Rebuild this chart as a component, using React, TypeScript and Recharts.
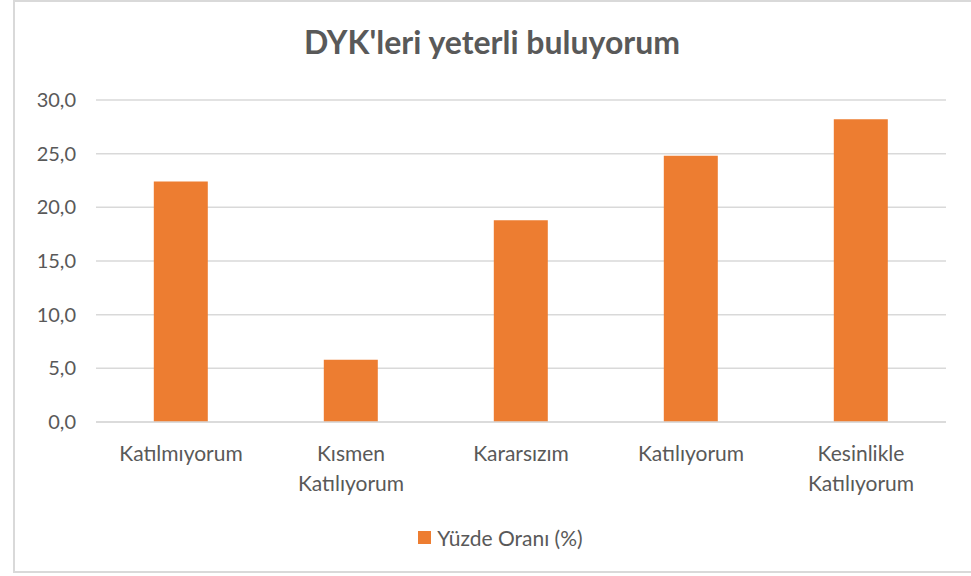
import React from 'react';
import { BarChart, Bar, XAxis, YAxis, CartesianGrid, Legend } from 'recharts';

const categories = ['Katılmıyorum', 'Kısmen Katılıyorum', 'Kararsızım', 'Katılıyorum', 'Kesinlikle Katılıyorum'];
const percentages = [22.4, 5.8, 18.8, 24.8, 28.2];
const yTicks = [0, 5, 10, 15, 20, 25, 30];

const seriesName = 'Yüzde Oranı (%)';
const title = "DYK'leri yeterli buluyorum";

const data = categories.map((name, i) => ({ name, value: percentages[i] }));

const FONT = 'Lato, "Open Sans", sans-serif';
const TEXT = '#595959';
const ORANGE = '#ED7D31';

const CategoryTick = (props: any) => {
  const { x, y, payload } = props;
  const lines = String(payload.value).split(' ');
  return (
    <g>
      {lines.map((line: string, i: number) => (
        <text
          key={i}
          x={x}
          y={y + 39 + i * 30}
          textAnchor="middle"
          fill={TEXT}
          fontSize={21}
          fontFamily={FONT}
        >
          {line}
        </text>
      ))}
    </g>
  );
};

const renderLegend = () => (
  <div style={{ height: 30, display: 'flex', justifyContent: 'center', alignItems: 'center', fontFamily: FONT, fontSize: 21, color: TEXT }}>
    <span style={{ width: 13, height: 13, background: ORANGE, display: 'inline-block', marginRight: 6 }} />
    <span>{seriesName}</span>
  </div>
);

export default function App() {
  return (
    <div style={{ position: 'absolute', left: 0, top: 0, width: 971, height: 576, overflow: 'hidden', background: '#fff' }}>
      <div style={{ position: 'absolute', left: 13, top: 0, width: 990, height: 573, border: '2px solid #d9d9d9', boxSizing: 'border-box' }} />
      <div style={{ position: 'absolute', left: 0, top: 0 }}>
        <BarChart
          width={971}
          height={576}
          data={data}
          margin={{ top: 100, right: 25, left: 0, bottom: 44 }}
          barCategoryGap="34%"
        >
          <text x={492} y={54} textAnchor="middle" fill={TEXT} fontSize={32} fontWeight="bold" fontFamily={FONT}>
            {title}
          </text>
          <CartesianGrid vertical={false} stroke="#d9d9d9" strokeWidth={1.5} />
          <XAxis
            dataKey="name"
            interval={0}
            height={80}
            tickSize={0}
            tickMargin={0}
            axisLine={{ stroke: '#d9d9d9', strokeWidth: 1.5 }}
            tickLine={false}
            tick={<CategoryTick />}
          />
          <YAxis
            width={96}
            domain={[0, 30]}
            ticks={yTicks}
            tickSize={0}
            tickMargin={20}
            axisLine={false}
            tickLine={false}
            tickFormatter={(v: number) => v.toFixed(1).replace('.', ',')}
            tick={{ fill: TEXT, fontSize: 20, fontFamily: FONT }}
          />
          <Legend
            verticalAlign="bottom"
            content={renderLegend}
            wrapperStyle={{ top: 522, left: 15, width: 971, height: 30 }}
          />
          <Bar dataKey="value" name={seriesName} fill={ORANGE} isAnimationActive={false} />
        </BarChart>
      </div>
    </div>
  );
}
